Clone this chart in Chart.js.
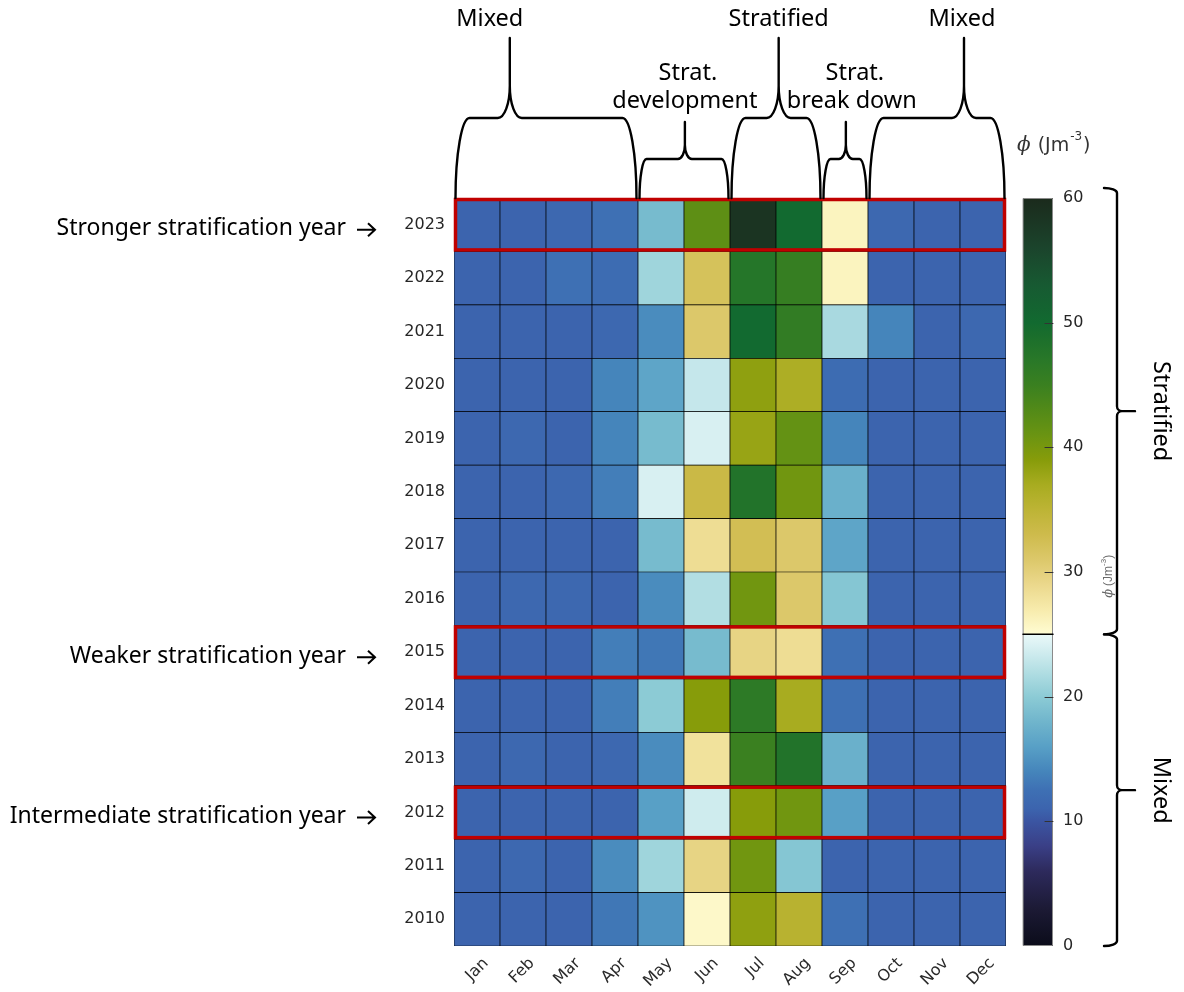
<!DOCTYPE html>
<html>
<head>
<meta charset="utf-8">
<title>Monthly potential energy anomaly 2010–2023</title>
<script src="https://cdn.jsdelivr.net/npm/chart.js@4.4.1/dist/chart.umd.min.js"></script>
<style>
  html, body { margin: 0; padding: 0; background: #ffffff; }
  #wrap { position: relative; width: 1184px; height: 992px; }
  canvas { display: block; }
</style>
</head>
<body>
<div id="wrap"><canvas id="heat" width="1184" height="992"></canvas></div>
<script>
// ---- data -------------------------------------------------------------
const MONTHS = ['Jan', 'Feb', 'Mar', 'Apr', 'May', 'Jun', 'Jul', 'Aug', 'Sep', 'Oct', 'Nov', 'Dec'];
const YEARS = [2010, 2011, 2012, 2013, 2014, 2015, 2016, 2017, 2018, 2019, 2020, 2021, 2022, 2023];

// potential energy anomaly phi (J m^-3), Jan..Dec
const phi2010 = [11, 11, 11, 13, 15, 25.5, 38.5, 35.5, 12.5, 11, 11, 11];
const phi2011 = [11, 11.5, 11, 14.5, 21, 29.5, 40.5, 19.5, 11, 11, 11, 11];
const phi2012 = [11, 11, 11, 11, 16, 23.5, 39, 40.5, 16, 11, 11, 11];
const phi2013 = [11, 11.5, 11, 11.5, 14.5, 28, 45, 48, 17.5, 11, 11, 11];
const phi2014 = [11, 11, 11, 13.5, 20, 39, 46.5, 37, 12.5, 11, 11, 11];
const phi2015 = [11, 11, 11, 13.5, 13, 18.5, 29.5, 28.5, 12.5, 11, 11, 11];
const phi2016 = [11, 11.5, 11.5, 11, 14.5, 22, 40.5, 31, 19.5, 11, 11, 11];
const phi2017 = [11, 11, 11, 11, 18.5, 28.5, 32.5, 31, 16.5, 11, 11, 11];
const phi2018 = [11, 11, 11.5, 13.5, 24, 33.5, 48, 40.5, 17.5, 11, 11, 11];
const phi2019 = [11, 11.5, 11, 14, 18.5, 24, 38, 41.5, 14, 11, 11, 11];
const phi2020 = [11, 11, 11, 14, 16.5, 23, 38.5, 36.5, 12, 11, 11, 11];
const phi2021 = [11, 11, 11, 11.5, 14.5, 31, 50, 46, 21.5, 14, 11, 11.5];
const phi2022 = [11, 11, 12.5, 12, 21, 32, 47.5, 45.5, 26, 11, 11, 11];
const phi2023 = [11, 11, 11.5, 12.5, 18.5, 42, 58.5, 50, 26, 11.5, 11, 11];
const PHI_ROWS = [phi2010, phi2011, phi2012, phi2013, phi2014, phi2015, phi2016,
                  phi2017, phi2018, phi2019, phi2020, phi2021, phi2022, phi2023];

const COLORBAR_TICKS = [0, 10, 20, 30, 40, 50, 60];
const REGIME_SPLIT = 25;           // mixed / stratified threshold on the colour scale

const HIGHLIGHT_YEARS = [2023, 2015, 2012];
const HIGHLIGHT_LABELS = ['Stronger stratification year',
                          'Weaker stratification year',
                          'Intermediate stratification year'];

// seasonal phases along the month axis (first / last month index)
const PHASE_NAMES = [['Mixed'], ['Strat.', 'development'], ['Stratified'], ['Strat.', 'break down'], ['Mixed']];
const PHASE_FIRST = [0, 4, 6, 8, 9];
const PHASE_LAST  = [3, 5, 7, 8, 11];

const REGIME_NAMES = ['Stratified', 'Mixed'];

// ---- colour map (two branches meeting at the regime threshold) --------
const CMAP_LOW = [[0, '#0b0c1a'], [3, '#1c1a35'], [6, '#2d2a5c'], [8, '#3a3f86'], [10, '#3b55a2'],
  [11, '#3c64ae'], [12.5, '#3e70b4'], [14, '#4585bb'], [16, '#58a0c6'], [18, '#70b5cc'],
  [20, '#8ccbd5'], [22, '#b2dee3'], [24, '#d8f0f2'], [25, '#eaf9f9']];
const CMAP_HIGH = [[25, '#fffcd2'], [27, '#f7ebac'], [29, '#ebd88c'], [31, '#dcc86a'], [33, '#cebb4c'],
  [35, '#bdb435'], [37, '#a8ac20'], [39, '#879c0a'], [41, '#6a9412'], [43, '#528a18'],
  [45, '#3a8020'], [47, '#297828'], [49, '#1a6e2c'], [50, '#126a30'], [53, '#175a32'],
  [56, '#1b442c'], [60, '#1b2a1c']];

function hexRgb(h) { return [1, 3, 5].map(i => parseInt(h.substr(i, 2), 16)); }
function phiColor(v) {
  const stops = v < REGIME_SPLIT ? CMAP_LOW : CMAP_HIGH;
  if (v <= stops[0][0]) return stops[0][1];
  for (let i = 1; i < stops.length; i++) {
    if (v <= stops[i][0]) {
      const t = (v - stops[i - 1][0]) / (stops[i][0] - stops[i - 1][0]);
      const a = hexRgb(stops[i - 1][1]), b = hexRgb(stops[i][1]);
      const c = a.map((x, k) => Math.round(x + (b[k] - x) * t));
      return 'rgb(' + c.join(',') + ')';
    }
  }
  return stops[stops.length - 1][1];
}

// ---- drawing helpers ---------------------------------------------------
const K = 0.552;
const TICK_FONT = '16px "DejaVu Sans", sans-serif';
const NOTE_FONT = '"Noto Sans", "Open Sans", sans-serif';

function topBrace(ctx, x0, x1, xt, yb, yf, ytop, rx, tw, th) {
  const ry = yb - yf;
  ctx.beginPath();
  ctx.moveTo(x0, yb);
  ctx.bezierCurveTo(x0, yb - K * ry, x0 + rx - K * rx, yf, x0 + rx, yf);
  ctx.lineTo(xt - tw, yf);
  ctx.bezierCurveTo(xt - tw + K * tw, yf, xt, yf - th + K * th, xt, yf - th);
  ctx.lineTo(xt, ytop);
  ctx.moveTo(xt, yf - th);
  ctx.bezierCurveTo(xt, yf - th + K * th, xt + tw - K * tw, yf, xt + tw, yf);
  ctx.lineTo(x1 - rx, yf);
  ctx.bezierCurveTo(x1 - rx + K * rx, yf, x1, yb - K * ry, x1, yb);
  ctx.stroke();
}

function rightBrace(ctx, xv, ya, yb, rx, ry, tw, th, tl) {
  const ym = (ya + yb) / 2;
  ctx.beginPath();
  ctx.moveTo(xv - rx, ya);
  ctx.bezierCurveTo(xv - rx + K * rx, ya, xv, ya + ry - K * ry, xv, ya + ry);
  ctx.lineTo(xv, ym - th);
  ctx.bezierCurveTo(xv, ym - th + K * th, xv + tw - K * tw, ym, xv + tw, ym);
  ctx.lineTo(xv + tl, ym);
  ctx.moveTo(xv + tw, ym);
  ctx.bezierCurveTo(xv + tw - K * tw, ym, xv, ym + th - K * th, xv, ym + th);
  ctx.lineTo(xv, yb - ry);
  ctx.bezierCurveTo(xv, yb - ry + K * ry, xv - rx + K * rx, yb, xv - rx, yb);
  ctx.stroke();
}

function arrowRight(ctx, x0, x1, y) {
  ctx.beginPath();
  ctx.moveTo(x0, y); ctx.lineTo(x1 - 1, y);
  ctx.moveTo(x1 - 7, y - 6.5); ctx.lineTo(x1, y); ctx.lineTo(x1 - 7, y + 6.5);
  ctx.stroke();
}

// layout of the phase braces: tip position as a fraction of the span, label offsets
const PHASE_STYLE = [
  { big: true,  tip: 0.30, dx: -20 },
  { big: false, tip: 0.51, dx: 0 },
  { big: true,  tip: 0.53, dx: 0 },
  { big: false, tip: 0.52, dx: 6 },
  { big: true,  tip: 0.70, dx: -2 }
];

const annotations = {
  id: 'annotations',
  afterDraw(chart) {
    const ctx = chart.ctx;
    const xs = chart.scales.x, ys = chart.scales.y, cb = chart.scales.cb;
    const area = chart.chartArea;
    const half = (xs.getPixelForValue(1) - xs.getPixelForValue(0)) / 2;
    ctx.save();

    // highlighted years
    HIGHLIGHT_YEARS.forEach((yr, i) => {
      const r = YEARS.indexOf(yr);
      const yTop = ys.getPixelForValue(r + 1), yBot = ys.getPixelForValue(r);
      ctx.strokeStyle = '#c00000';
      ctx.lineWidth = 3.5;
      ctx.strokeRect(area.left + 1.5, yTop + 1.5, area.right - area.left - 3, yBot - yTop - 3);
      const yc = (yTop + yBot) / 2 + 4;
      ctx.fillStyle = '#000';
      ctx.font = '23px ' + NOTE_FONT;
      ctx.textAlign = 'right';
      ctx.textBaseline = 'middle';
      ctx.fillText(HIGHLIGHT_LABELS[i], 346, yc);
      ctx.strokeStyle = '#000';
      ctx.lineWidth = 2;
      arrowRight(ctx, 357, 375, yc + 1);
    });

    // seasonal phase braces above the grid
    ctx.strokeStyle = '#000';
    ctx.lineWidth = 2.4;
    ctx.lineJoin = 'round';
    ctx.lineCap = 'round';
    ctx.fillStyle = '#000';
    ctx.textAlign = 'center';
    ctx.textBaseline = 'middle';
    ctx.font = '23.5px ' + NOTE_FONT;
    PHASE_NAMES.forEach((lines, i) => {
      const st = PHASE_STYLE[i];
      const x0 = xs.getPixelForValue(PHASE_FIRST[i]) - half + 1.5;
      const x1 = xs.getPixelForValue(PHASE_LAST[i]) + half - 1.5;
      const xt = x0 + (x1 - x0) * st.tip;
      const yb = area.top;
      if (st.big) {
        topBrace(ctx, x0, x1, xt, yb, yb - 80, yb - 160, 14, 12, 32);
        ctx.fillText(lines[0], xt + st.dx, 19);
      } else {
        topBrace(ctx, x0, x1, xt, yb, yb - 39, yb - 76, 7, 7, 14);
        ctx.fillText(lines[0], xt + st.dx + 3, 73);
        ctx.fillText(lines[1], xt + st.dx, 101);
      }
    });

    // colour bar
    const cbL = area.right + 17, cbW = 30;
    const pTop = cb.getPixelForValue(60), pBot = cb.getPixelForValue(0);
    const pSplit = cb.getPixelForValue(REGIME_SPLIT);
    const grad = ctx.createLinearGradient(0, pBot, 0, pTop);
    CMAP_LOW.forEach(s => grad.addColorStop(s[0] / 60, s[1]));
    CMAP_HIGH.forEach(s => grad.addColorStop(Math.min(1, s[0] / 60 + (s[0] === REGIME_SPLIT ? 1e-4 : 0)), s[1]));
    ctx.fillStyle = grad;
    ctx.fillRect(cbL, pTop, cbW, pBot - pTop);
    ctx.strokeStyle = '#8a8a8a';
    ctx.lineWidth = 1;
    ctx.strokeRect(cbL + 0.5, pTop + 0.5, cbW - 1, pBot - pTop - 1);
    ctx.strokeStyle = '#000';
    ctx.lineWidth = 1.5;
    ctx.beginPath();
    ctx.moveTo(cbL, pSplit); ctx.lineTo(cbL + cbW, pSplit);
    ctx.stroke();
    ctx.strokeStyle = '#333';
    ctx.lineWidth = 1;
    ctx.fillStyle = '#262626';
    ctx.font = TICK_FONT;
    ctx.textAlign = 'left';
    ctx.textBaseline = 'middle';
    COLORBAR_TICKS.forEach(t => {
      const p = cb.getPixelForValue(t);
      if (t > 0 && t < 60) {
        ctx.beginPath();
        ctx.moveTo(cbL + cbW - 8, Math.round(p) + 0.5); ctx.lineTo(cbL + cbW, Math.round(p) + 0.5);
        ctx.stroke();
      }
      ctx.fillText(String(t), cbL + cbW + 10, p);
    });

    // colour bar unit above
    ctx.fillStyle = '#333';
    let x = cbL - 6;
    const yU = 146;
    ctx.font = 'italic 20px "DejaVu Serif", serif';
    ctx.fillText('\u03d5', x, yU); x += ctx.measureText('\u03d5').width + 7;
    ctx.font = '19px "DejaVu Sans", sans-serif';
    ctx.fillText('(Jm', x, yU); x += ctx.measureText('(Jm').width + 1;
    ctx.font = '12px "DejaVu Sans", sans-serif';
    ctx.fillText('-3', x, yU - 9); x += ctx.measureText('-3').width + 1;
    ctx.font = '19px "DejaVu Sans", sans-serif';
    ctx.fillText(')', x, yU);

    // small rotated unit beside the bar
    ctx.save();
    ctx.translate(cbL + cbW + 56, cb.getPixelForValue(30.5));
    ctx.rotate(-Math.PI / 2);
    ctx.fillStyle = '#6a6a6a';
    ctx.textAlign = 'left';
    let xr = -32;
    ctx.font = 'italic 13px "DejaVu Serif", serif';
    ctx.fillText('\u03d5', xr, 0); xr += ctx.measureText('\u03d5').width + 3;
    ctx.font = '12px "Liberation Sans", sans-serif';
    ctx.fillText('(Jm', xr, 0); xr += ctx.measureText('(Jm').width;
    ctx.font = '8px "Liberation Sans", sans-serif';
    ctx.fillText('-3', xr, -5); xr += ctx.measureText('-3').width;
    ctx.font = '12px "Liberation Sans", sans-serif';
    ctx.fillText(')', xr, 0);
    ctx.restore();

    // regime braces to the right of the bar
    ctx.strokeStyle = '#000';
    ctx.lineWidth = 2.4;
    const xv = cbL + cbW + 64;
    const segs = [[pTop - 10, pSplit], [pSplit, pBot]];
    ctx.fillStyle = '#000';
    ctx.font = '23.5px ' + NOTE_FONT;
    ctx.textAlign = 'center';
    segs.forEach((s, i) => {
      rightBrace(ctx, xv, s[0], s[1], 13, 5, 5, 5, 18);
      ctx.save();
      ctx.translate(xv + 44, (s[0] + s[1]) / 2);
      ctx.rotate(Math.PI / 2);
      ctx.fillText(REGIME_NAMES[i], 0, 0);
      ctx.restore();
    });

    ctx.restore();
  }
};

// ---- chart -------------------------------------------------------------
const datasets = YEARS.map((yr, r) => ({
  label: String(yr),
  data: MONTHS.map(() => 1),
  phi: PHI_ROWS[r],
  backgroundColor: PHI_ROWS[r].map(phiColor),
  borderColor: '#000',
  borderWidth: 0.7,
  borderSkipped: false,
  categoryPercentage: 1,
  barPercentage: 1
}));

new Chart(document.getElementById('heat'), {
  type: 'bar',
  data: { labels: MONTHS, datasets },
  options: {
    responsive: false,
    animation: false,
    devicePixelRatio: 1,
    layout: { padding: { top: 198, right: 178, left: 0, bottom: 0 } },
    plugins: {
      legend: { display: false },
      tooltip: {
        callbacks: {
          title: items => items[0].dataset.label + ' ' + items[0].label,
          label: item => '\u03d5 = ' + item.dataset.phi[item.dataIndex] + ' J m\u207b\u00b3'
        }
      }
    },
    scales: {
      x: {
        stacked: true,
        grid: { display: false, drawTicks: false },
        border: { display: false },
        ticks: { color: '#2a2a2a', font: { family: 'DejaVu Sans', size: 16 }, minRotation: 45, maxRotation: 45, padding: 8, labelOffset: 9 },
        afterFit: s => { s.height = 46; }
      },
      y: {
        type: 'linear',
        stacked: true,
        min: 0,
        max: YEARS.length,
        grid: { display: false, drawTicks: false },
        border: { display: false },
        afterBuildTicks: s => { s.ticks = YEARS.map((_, i) => ({ value: i + 0.5 })); },
        ticks: {
          color: '#262626',
          font: { family: 'DejaVu Sans', size: 16 },
          padding: 9,
          callback: v => YEARS[Math.round(v - 0.5)]
        },
        afterFit: s => { s.width = 454; }
      },
      cb: {
        type: 'linear',
        position: 'right',
        display: false,
        min: 0,
        max: 60
      }
    }
  },
  plugins: [annotations]
});
</script>
</body>
</html>
